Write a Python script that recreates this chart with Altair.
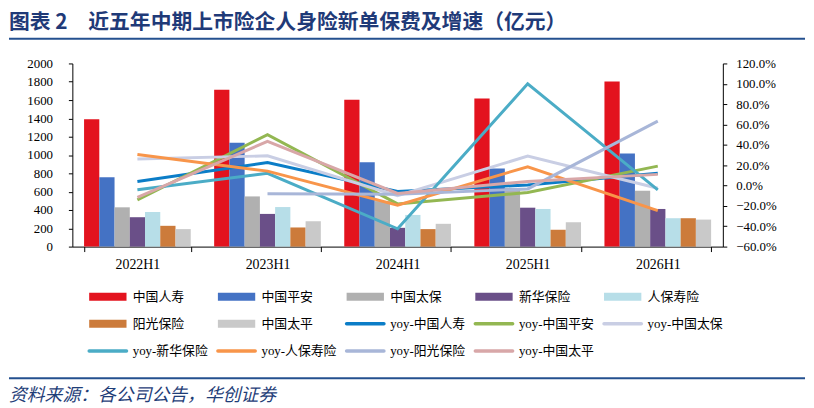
import altair as alt
import pandas as pd

periods = ["2022H1", "2023H1", "2024H1", "2025H1", "2026H1"]
companies = ["中国人寿", "中国平安", "中国太保", "新华保险", "人保寿险", "阳光保险", "中国太平"]

# 新单保费（亿元）
china_life = [1391, 1712, 1604, 1618, 1802]
ping_an = [757, 1135, 922, 854, 1016]
cpic = [429, 548, 497, 640, 609]
new_china = [321, 357, 205, 425, 411]
picc_life = [378, 432, 346, 411, 310]
sunshine = [227, 209, 191, 184, 310]
china_taiping = [191, 277, 249, 267, 295]

# 同比增速（%），阳光保险 2022H1 无数据
yoy_china_life = [4.0, 22.7, -5.8, 0.6, 12.0]
yoy_ping_an = [-14.0, 50.0, -18.0, -6.8, 19.1]
yoy_cpic = [26.0, 29.2, -10.0, 28.9, -2.6]
yoy_new_china = [-4.2, 12.0, -42.5, 100.0, -4.2]
yoy_picc_life = [30.5, 14.2, -19.4, 18.5, -24.6]
yoy_sunshine = [None, -8.1, -8.5, -3.3, 63.3]
yoy_china_taiping = [-11.7, 43.4, -7.7, 4.0, 11.0]

bar_colors = ["#E3131E", "#4472C4", "#B0B0B0", "#6A4F88", "#B7DEE8", "#CC7B3B", "#C9C9C9"]
line_colors = ["#0B7DC7", "#93B752", "#C9CEE4", "#4BACC6", "#F8954A", "#A8B6D8", "#D8A7A8"]

left_ticks = list(range(0, 2001, 200))
right_ticks = list(range(-60, 121, 20))

title_text = "图表 2　近五年中期上市险企人身险新单保费及增速（亿元）"
source_text = "资料来源：各公司公告，华创证券"
navy = "#24508F"
serif = "Liberation Serif, Noto Sans CJK SC"

premiums = [china_life, ping_an, cpic, new_china, picc_life, sunshine, china_taiping]
yoys = [yoy_china_life, yoy_ping_an, yoy_cpic, yoy_new_china, yoy_picc_life, yoy_sunshine, yoy_china_taiping]
series = ["yoy-" + c for c in companies]

bars_df = pd.DataFrame(
    [{"period": p, "company": c, "premium": v}
     for c, vals in zip(companies, premiums) for p, v in zip(periods, vals)]
)
lines_df = pd.DataFrame(
    [{"period": p, "series": s, "yoy": v}
     for s, vals in zip(series, yoys) for p, v in zip(periods, vals) if v is not None]
)

x_enc = alt.X(
    "period:N",
    sort=periods,
    scale=alt.Scale(paddingInner=0.18, paddingOuter=0.09),
    axis=alt.Axis(title=None, labelAngle=0, tickBand="extent", tickSize=5,
                  labelPadding=6, labelFontSize=14),
)

bars = (
    alt.Chart(bars_df)
    .mark_bar()
    .encode(
        x=x_enc,
        xOffset=alt.XOffset("company:N", sort=companies,
                            scale=alt.Scale(paddingInner=0, paddingOuter=0)),
        y=alt.Y("premium:Q", scale=alt.Scale(domain=[0, 2000]),
                axis=alt.Axis(title=None, values=left_ticks, format="d", tickSize=4, labelPadding=16)),
        color=alt.Color("company:N", scale=alt.Scale(domain=companies, range=bar_colors), legend=None),
    )
)

lines = (
    alt.Chart(lines_df)
    .mark_line(strokeWidth=3)
    .encode(
        x=alt.X("period:N", sort=periods),
        y=alt.Y("yoy:Q", scale=alt.Scale(domain=[-60, 120]),
                axis=alt.Axis(title=None, orient="right", values=right_ticks, tickSize=4,
                              labelPadding=9, labelExpr="format(datum.value, '.1f') + '%'")),
        color=alt.Color("series:N", scale=alt.Scale(domain=series, range=line_colors), legend=None),
    )
)

one_row = pd.DataFrame({"a": [0]})
title = (
    alt.Chart(one_row)
    .mark_text(text=title_text, align="left", baseline="middle", font="Noto Sans CJK SC",
               fontSize=21, fontWeight="bold", color="#1F3A78")
    .encode(x=alt.value(-64), y=alt.value(-41))
)
title_rule = (
    alt.Chart(one_row)
    .mark_rule(color=navy, strokeWidth=2)
    .encode(x=alt.value(-64), x2=alt.value(740), y=alt.value(-25))
)

main = (
    alt.layer(bars, lines, title, title_rule)
    .resolve_scale(y="independent", color="independent")
    .properties(width=657, height=185)
)

# legend built as marks: 5 slots per row
legend_names = companies + series
legend_df = pd.DataFrame({
    "name": legend_names,
    "kind": ["bar"] * len(companies) + ["line"] * len(series),
    "slot": range(len(legend_names)),
})
legend_df["col"] = legend_df["slot"] % 5
legend_df["row"] = legend_df["slot"] // 5

legend_base = alt.Chart(legend_df).transform_calculate(col_end="datum.col + 0.29")
lx = alt.X("col:Q", scale=alt.Scale(domain=[0, 5], range=[17, 667]), axis=None)
ly = alt.Y("row:Q", scale=alt.Scale(domain=[-0.5, 2.5], reverse=True), axis=None)
lcolor = alt.Color("name:N", scale=alt.Scale(domain=legend_names, range=bar_colors + line_colors),
                   legend=None)

bar_keys = (
    legend_base.transform_filter("datum.kind == 'bar'")
    .mark_rule(strokeWidth=8)
    .encode(x=lx, x2="col_end:Q", y=ly, color=lcolor)
)
line_keys = (
    legend_base.transform_filter("datum.kind == 'line'")
    .mark_rule(strokeWidth=3.5, strokeCap="round")
    .encode(x=lx, x2="col_end:Q", y=ly, color=lcolor)
)
labels = (
    legend_base.mark_text(align="left", baseline="middle", dx=44, fontSize=13, font=serif, color="black")
    .encode(x=lx, y=ly, text="name:N")
)
source_rule = (
    alt.Chart(one_row)
    .mark_rule(color=navy, strokeWidth=2)
    .encode(x=alt.value(-64), x2=alt.value(740), y=alt.value(96))
)
source = (
    alt.Chart(one_row)
    .mark_text(text=source_text, align="left", baseline="middle", font="Noto Sans CJK SC",
               fontSize=18, fontStyle="italic", color="#1F3E78")
    .encode(x=alt.value(-64), y=alt.value(114))
)

legend = alt.layer(bar_keys, line_keys, labels, source_rule, source).properties(width=657, height=82)

chart = (
    alt.vconcat(main, legend, spacing=12)
    .properties(padding={"left": 0, "top": 2, "right": 0, "bottom": 0})
    .configure_view(stroke=None)
    .configure_axis(grid=False, labelFont="Liberation Serif", labelFontSize=13, labelColor="black",
                    domainColor="black", tickColor="black")
)

chart.save("out.html", embed_options={"renderer": "svg", "actions": False})
